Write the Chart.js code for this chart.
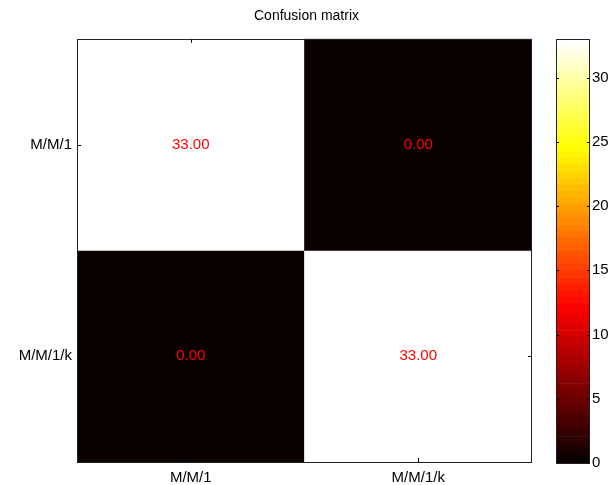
<!DOCTYPE html>
<html>
<head>
<meta charset="utf-8">
<script src="https://cdn.jsdelivr.net/npm/chart.js@4.4.0/dist/chart.umd.min.js"></script>
<style>
    html, body { margin: 0; padding: 0; background: #fff; }
    #wrap { position: relative; width: 613px; height: 485px; }
    #main { position: absolute; left: 0; top: 0; }
    #cbar { position: absolute; left: 556px; top: 0; }
</style>
</head>
<body>
<div id="wrap">
    <canvas id="main" width="613" height="485"></canvas>
    <canvas id="cbar" width="57" height="485"></canvas>
</div>
<script>
const title = 'Confusion matrix';
const colLabels = ['M/M/1', 'M/M/1/k'];
const rowLabels = ['M/M/1', 'M/M/1/k'];
const rowMM1 = [33, 0];
const rowMM1k = [0, 33];
const colorbarTicks = [0, 5, 10, 15, 20, 25, 30];
const colorMin = 0;
const colorMax = 33;

const FONT = 'Liberation Sans, Arial, sans-serif';

// matlab "hot" colormap, 64 levels
const hotColor = (i, m = 64) => {
    const n = Math.floor(3 / 8 * m);
    const k = i + 1;
    const r = k <= n ? k / n : 1;
    const g = k <= n ? 0 : (k <= 2 * n ? (k - n) / n : 1);
    const b = k <= 2 * n ? 0 : (k - 2 * n) / (m - 2 * n);
    return `rgb(${Math.round(r * 255)}, ${Math.round(g * 255)}, ${Math.round(b * 255)})`;
};

const colorFor = (v) => {
    const idx = Math.min(63, Math.floor((v - colorMin) / (colorMax - colorMin) * 63 + 0.5));
    return hotColor(idx);
};

const rows = [rowMM1, rowMM1k];

const cellDatasets = rows.map((values, r) => ({
    label: rowLabels[r],
    data: values.map(() => [r + 0.5, r + 1.5]),
    backgroundColor: values.map(colorFor),
    values,
    borderWidth: 0,
    barPercentage: 1,
    categoryPercentage: 1,
}));

const drawInwardTicks = (ctx, area, xs, ys, len) => {
    ctx.save();
    ctx.strokeStyle = '#000';
    ctx.lineWidth = 1;
    ctx.beginPath();
    for (const x of xs) {
        const px = Math.round(x) + 0.5;
        ctx.moveTo(px, area.top);
        ctx.lineTo(px, area.top + len);
        ctx.moveTo(px, area.bottom);
        ctx.lineTo(px, area.bottom - len);
    }
    for (const y of ys) {
        const py = Math.round(y) + 0.5;
        ctx.moveTo(area.left, py);
        ctx.lineTo(area.left + len, py);
        ctx.moveTo(area.right, py);
        ctx.lineTo(area.right - len, py);
    }
    ctx.stroke();
    ctx.strokeStyle = '#222';
    ctx.strokeRect(Math.round(area.left) + 0.5, Math.round(area.top) + 0.5,
        Math.round(area.right - area.left) - 1, Math.round(area.bottom - area.top));
    ctx.restore();
};

const cellTextPlugin = {
    id: 'cellText',
    afterDatasetsDraw(chart) {
        const { ctx } = chart;
        ctx.save();
        ctx.font = `15px ${FONT}`;
        ctx.fillStyle = '#ff0000';
        ctx.textAlign = 'center';
        ctx.textBaseline = 'middle';
        chart.data.datasets.forEach((ds, d) => {
            chart.getDatasetMeta(d).data.forEach((bar, i) => {
                const p = bar.getProps(['x', 'y', 'base'], true);
                ctx.fillText(ds.values[i].toFixed(2), p.x, (p.y + p.base) / 2);
            });
        });
        ctx.restore();
    },
    afterDraw(chart) {
        const xs = chart.scales.x;
        const ys = chart.scales.y;
        drawInwardTicks(chart.ctx, chart.chartArea,
            colLabels.map((_, i) => xs.getPixelForValue(i)),
            ys.ticks.map(t => ys.getPixelForValue(t.value)), 4);
    },
};

new Chart(document.getElementById('main'), {
    type: 'bar',
    data: { labels: colLabels, datasets: cellDatasets },
    options: {
        responsive: false,
        animation: false,
        grouped: false,
        layout: { padding: 0 },
        plugins: {
            legend: { display: false },
            tooltip: { enabled: false },
            title: {
                display: true,
                text: title,
                color: '#000',
                font: { family: FONT, size: 14, weight: 'normal' },
                padding: { top: 8, bottom: 14 },
            },
        },
        scales: {
            x: {
                grid: { display: false, drawTicks: false },
                border: { display: false },
                ticks: { color: '#000', font: { family: FONT, size: 15 }, padding: 7, maxRotation: 0 },
                afterFit: (s) => { s.height = 23; },
            },
            y: {
                type: 'linear',
                min: 0.5,
                max: 2.5,
                reverse: true,
                grid: { display: false, drawTicks: false },
                border: { display: false },
                afterBuildTicks: (s) => { s.ticks = rowLabels.map((_, i) => ({ value: i + 1 })); },
                ticks: {
                    color: '#000',
                    font: { family: FONT, size: 15 },
                    padding: 5,
                    callback: (v) => rowLabels[Math.round(v) - 1] ?? '',
                },
                afterFit: (s) => { s.width = 77; },
            },
            // empty right-hand space where the colorbar sits
            yRight: {
                type: 'linear',
                position: 'right',
                grid: { display: false, drawTicks: false },
                border: { display: false },
                ticks: { display: false },
                afterFit: (s) => { s.width = 81; },
            },
        },
    },
    plugins: [cellTextPlugin],
});

// colorbar
const levels = 64;
const cbDatasets = [];
for (let i = 0; i < levels; i++) {
    const lo = colorMin + (colorMax - colorMin) * i / levels;
    const hi = colorMin + (colorMax - colorMin) * (i + 1) / levels;
    cbDatasets.push({
        data: [[lo, hi]],
        backgroundColor: hotColor(i),
        borderWidth: 0,
        barPercentage: 1,
        categoryPercentage: 1,
    });
}

const cbTickPlugin = {
    id: 'cbTicks',
    afterDraw(chart) {
        const ys = chart.scales.y;
        drawInwardTicks(chart.ctx, chart.chartArea, [],
            colorbarTicks.map(v => ys.getPixelForValue(v)), 3);
    },
};

new Chart(document.getElementById('cbar'), {
    type: 'bar',
    data: { labels: [''], datasets: cbDatasets },
    options: {
        responsive: false,
        animation: false,
        grouped: false,
        layout: { padding: { left: 0, right: 0, top: 39, bottom: 22 } },
        plugins: { legend: { display: false }, tooltip: { enabled: false } },
        scales: {
            x: { display: false },
            y: {
                position: 'right',
                min: colorMin,
                max: colorMax,
                grid: { display: false, drawTicks: false },
                border: { display: false },
                afterBuildTicks: (s) => { s.ticks = colorbarTicks.map(v => ({ value: v })); },
                ticks: { color: '#000', font: { family: FONT, size: 15 }, padding: 2 },
                afterFit: (s) => { s.width = 23; },
            },
        },
    },
    plugins: [cbTickPlugin],
});
</script>
</body>
</html>
